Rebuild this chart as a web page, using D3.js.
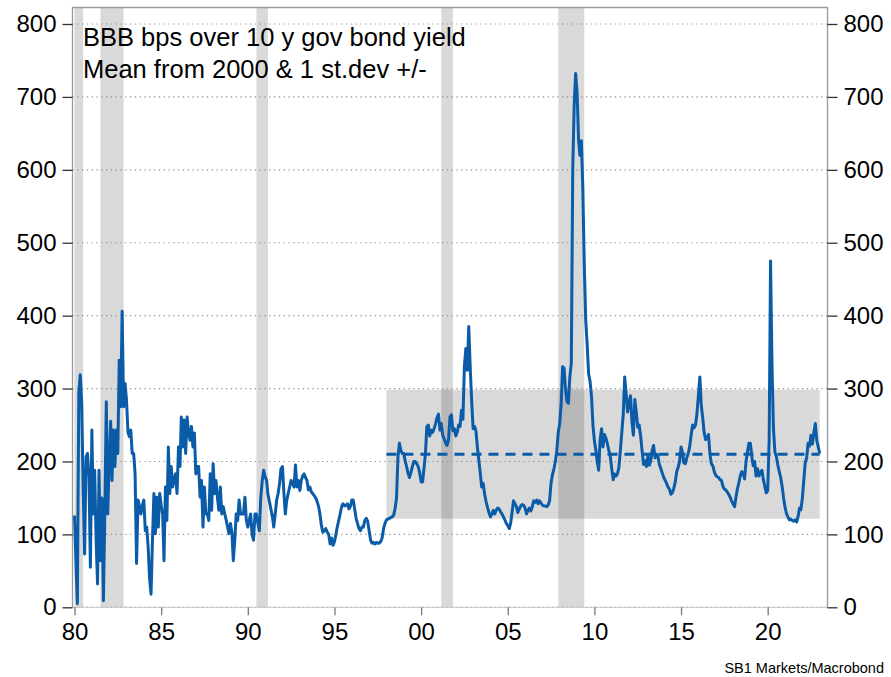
<!DOCTYPE html>
<html>
<head>
<meta charset="utf-8">
<script src="https://cdn.jsdelivr.net/npm/d3@7"></script>
<style>
  body { margin: 0; background: #fff; }
  svg { display: block; }
  text { font-family: "Liberation Sans", Arial, Helvetica, sans-serif; }
</style>
</head>
<body>
<svg id="chart" width="891" height="677"></svg>
<script>
// Monthly BBB spread over 10y government bond yield (bps), starting January 1980
const firstYear = 1980;
const bbbSpread = [
  126, 60, 5, 294, 319, 280, 165, 73, 206, 211, 180, 55,        // 1980
  243, 128, 188, 92, 32, 188, 64, 150, 9, 128, 282, 128,        // 1981
  200, 255, 174, 243, 193, 243, 211, 339, 275, 406, 275, 307,   // 1982
  284, 240, 234, 243, 211, 211, 183, 60, 147, 138, 128, 140,    // 1983
  147, 105, 110, 83, 40, 18, 92, 156, 101, 151, 110, 156,       // 1984
  140, 128, 64, 165, 119, 220, 156, 193, 165, 175, 183, 156,    // 1985
  220, 193, 261, 220, 257, 211, 261, 240, 229, 248, 220, 239,   // 1986
  183, 193, 193, 151, 174, 110, 165, 128, 128, 119, 183, 133,   // 1987
  197, 156, 174, 150, 133, 165, 128, 138, 128, 120, 110, 101,   // 1988
  115, 101, 64, 92, 128, 119, 147, 128, 128, 128, 151, 119,     // 1989
  110, 120, 128, 100, 92, 128, 128, 115, 105, 150, 174, 188,    // 1990
  179, 174, 155, 145, 135, 125, 110, 128, 147, 156, 170, 190,   // 1991
  193, 156, 128, 147, 156, 165, 174, 170, 165, 195, 165, 174,   // 1992
  160, 174, 180, 183, 178, 174, 161, 165, 158, 156, 153, 150,   // 1993
  145, 138, 128, 112, 103, 105, 108, 103, 100, 87, 95, 85,      // 1994
  90, 100, 110, 119, 128, 138, 142, 139, 140, 142, 135, 138,    // 1995
  147, 147, 135, 122, 115, 108, 105, 110, 110, 119, 122, 118,   // 1996
  105, 92, 88, 89, 87, 89, 88, 88, 90, 95, 108, 115,            // 1997
  120, 121, 122, 123, 124, 126, 135, 150, 207, 225, 215, 211,   // 1998
  211, 200, 193, 184, 178, 185, 193, 200, 200, 197, 193, 185,   // 1999
  172, 172, 190, 210, 248, 250, 235, 243, 240, 245, 252, 260,   // 2000
  265, 243, 252, 236, 231, 225, 222, 230, 261, 264, 242, 245,   // 2001
  235, 240, 250, 248, 270, 258, 330, 355, 325, 385, 330, 284,   // 2002
  245, 248, 242, 220, 202, 184, 165, 170, 155, 145, 137, 130,   // 2003
  124, 128, 133, 128, 133, 136, 135, 131, 128, 124, 120, 115,   // 2004
  112, 108, 115, 130, 146, 142, 138, 130, 135, 139, 141, 140,   // 2005
  136, 128, 133, 136, 132, 138, 146, 144, 147, 142, 146, 143,   // 2006
  140, 139, 139, 138, 140, 146, 170, 182, 190, 200, 215, 240,   // 2007
  252, 280, 330, 328, 300, 282, 280, 316, 335, 600, 690, 732,   // 2008
  705, 640, 620, 640, 575, 470, 395, 360, 320, 310, 289, 250,   // 2009
  228, 215, 200, 188, 230, 245, 220, 237, 232, 224, 215, 207,   // 2010
  190, 175, 183, 180, 183, 192, 215, 240, 265, 316, 292, 268,   // 2011
  280, 290, 255, 236, 285, 268, 247, 250, 235, 215, 196, 201,   // 2012
  193, 208, 195, 200, 215, 222, 205, 210, 207, 196, 190, 184,   // 2013
  178, 174, 170, 165, 162, 155, 157, 163, 172, 186, 192, 200,   // 2014
  220, 212, 198, 197, 205, 211, 220, 236, 250, 246, 250, 265,   // 2015
  290, 316, 278, 260, 240, 230, 232, 237, 210, 197, 194, 186,   // 2016
  181, 179, 178, 175, 174, 166, 162, 161, 158, 155, 151, 146,   // 2017
  142, 138, 150, 162, 170, 180, 186, 184, 176, 200, 213, 225,   // 2018
  225, 206, 194, 200, 180, 190, 180, 185, 188, 175, 166, 157,   // 2019
  160, 230, 475, 330, 245, 213, 207, 195, 186, 178, 165, 150,   // 2020
  137, 128, 124, 120, 121, 119, 118, 120, 117, 124, 136, 134,   // 2021
  150, 175, 198, 205, 225, 221, 236, 224, 240, 252, 229, 220,   // 2022
  211                                                           // 2023
];

// US recessions (start month, end month)
const recessions = [
  ["1980-01", "1980-07"],
  ["1981-07", "1982-11"],
  ["1990-07", "1991-03"],
  ["2001-03", "2001-11"],
  ["2007-12", "2009-06"]
];

// Mean since 2000 and one standard deviation either side
const meanSince2000 = 210;
const stDev = 88.5;
const bandPeriod = ["1998-01", "2023-01"];

const yTicks = [0, 100, 200, 300, 400, 500, 600, 700, 800];
const xTickYears = [1980, 1985, 1990, 1995, 2000, 2005, 2010, 2015, 2020];
const notes = ["BBB bps over 10 y gov bond yield", "Mean from 2000 & 1 st.dev +/-"];
const sourceText = "SB1 Markets/Macrobond";

// ---- drawing ----
const svg = d3.select("#chart");
const frame = { left: 72.5, right: 827.5, top: 7.5, bottom: 607.3 };
const parseMonth = d3.timeParse("%Y-%m");

const series = bbbSpread.map((v, i) => ({ date: new Date(firstYear, i, 1), value: v }));

const x = d3.scaleTime()
  .domain([new Date(1980, 0, 1), new Date(2020, 0, 1)])
  .range([74.5, 767.7]);
const y = d3.scaleLinear()
  .domain([0, 800])
  .range([607.3, 24]);

const blue = "#0b5ca8";

// standard deviation band
svg.append("rect")
  .attr("x", x(parseMonth(bandPeriod[0])))
  .attr("width", x(parseMonth(bandPeriod[1])) - x(parseMonth(bandPeriod[0])))
  .attr("y", y(meanSince2000 + stDev))
  .attr("height", y(meanSince2000 - stDev) - y(meanSince2000 + stDev))
  .attr("fill", "#d9d9d9");

// recession shading
svg.append("g").selectAll("rect")
  .data(recessions)
  .join("rect")
  .attr("x", d => Math.max(frame.left, x(parseMonth(d[0]))))
  .attr("width", d => x(parseMonth(d[1])) - Math.max(frame.left, x(parseMonth(d[0]))))
  .attr("y", frame.top)
  .attr("height", frame.bottom - frame.top)
  .attr("fill", "#000")
  .attr("fill-opacity", 0.15);

// dotted grid lines
svg.append("g").selectAll("line")
  .data(yTicks)
  .join("line")
  .attr("x1", frame.left).attr("x2", frame.right)
  .attr("y1", d => y(d)).attr("y2", d => y(d))
  .attr("stroke", "#8c8c8c")
  .attr("stroke-width", 1.2)
  .attr("stroke-dasharray", "1.2,3.6");

// frame
svg.append("path")
  .attr("d", `M${frame.left},${frame.bottom}V${frame.top}H${frame.right}V${frame.bottom}`)
  .attr("fill", "none")
  .attr("stroke", "#9a9a9a")
  .attr("stroke-width", 1.3);
svg.append("line")
  .attr("x1", frame.left).attr("x2", frame.right)
  .attr("y1", frame.bottom).attr("y2", frame.bottom)
  .attr("stroke", "#c8c8c8").attr("stroke-width", 1);

// mean line
svg.append("line")
  .attr("x1", x(parseMonth(bandPeriod[0])))
  .attr("x2", x(parseMonth(bandPeriod[1])))
  .attr("y1", y(meanSince2000)).attr("y2", y(meanSince2000))
  .attr("stroke", blue)
  .attr("stroke-width", 3)
  .attr("stroke-dasharray", "10,7");

// spread line
svg.append("path")
  .datum(series)
  .attr("d", d3.line().x(d => x(d.date)).y(d => y(d.value)))
  .attr("fill", "none")
  .attr("stroke", blue)
  .attr("stroke-width", 3)
  .attr("stroke-linejoin", "round");

// axes
const leftAxis = d3.axisLeft(y).tickValues(yTicks).tickSize(10).tickPadding(6);
const rightAxis = d3.axisRight(y).tickValues(yTicks).tickSize(10).tickPadding(6);
const bottomAxis = d3.axisBottom(x)
  .tickValues(xTickYears.map(yr => new Date(yr, 0, 1)))
  .tickFormat(d3.timeFormat("%y"))
  .tickSize(8).tickPadding(8);

function styleAxis(g, size) {
  g.select(".domain").remove();
  g.selectAll(".tick line").attr("stroke", "#333").attr("stroke-width", 1.3);
  g.selectAll(".tick text").attr("fill", "#000").attr("font-size", size)
    .attr("font-family", "'Liberation Sans', Arial, sans-serif");
}
svg.append("g").attr("transform", `translate(${frame.left},0)`).call(leftAxis).call(g => styleAxis(g, 24));
svg.append("g").attr("transform", `translate(${frame.right},0)`).call(rightAxis).call(g => styleAxis(g, 24));
svg.append("g").attr("transform", `translate(0,${frame.bottom})`).call(bottomAxis).call(g => {
  styleAxis(g, 24);
  g.selectAll(".tick line").attr("stroke", "#777");
});

// annotation
svg.append("g").selectAll("text")
  .data(notes)
  .join("text")
  .attr("x", 83)
  .attr("y", (d, i) => 46 + i * 32)
  .attr("font-size", 25.5)
  .attr("fill", "#000")
  .text(d => d);

// source
svg.append("text")
  .attr("x", 884).attr("y", 673)
  .attr("text-anchor", "end")
  .attr("font-size", 14.5)
  .attr("fill", "#000")
  .text(sourceText);
</script>
</body>
</html>
